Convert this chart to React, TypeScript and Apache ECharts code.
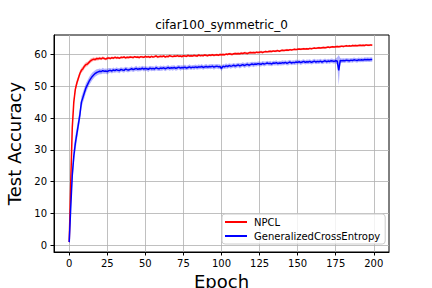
import React, { useEffect, useRef } from "react";
import * as echarts from "echarts";

const epochTicks = [0, 25, 50, 75, 100, 125, 150, 175, 200];
const accTicks = [0, 10, 20, 30, 40, 50, 60];

const npclMean = [
  1.0, 20, 37, 45, 49, 51, 52.5, 54, 55, 55.5,
  56.3, 56.8, 57.0, 57.5, 58.0, 58.3, 58.5, 58.4, 58.7, 58.6,
  58.8, 58.6, 58.9, 58.7, 58.5, 58.8, 58.9, 58.7, 59.0, 58.8,
  59.1, 58.9, 59.0, 58.8, 59.1, 59.0, 59.2, 58.9, 59.1, 59.0,
  59.2, 59.1, 59.0, 59.3, 59.1, 59.2, 59.0, 59.3, 59.2, 59.1,
  59.4, 59.2, 59.3, 59.1, 59.4, 59.2, 59.3, 59.5, 59.2, 59.3,
  59.4, 59.3, 59.5, 59.2, 59.4, 59.3, 59.6, 59.4, 59.3, 59.5,
  59.4, 59.6, 59.4, 59.5, 59.3, 59.6, 59.5, 59.4, 59.7, 59.5,
  59.6, 59.5, 59.7, 59.6, 59.5, 59.8, 59.6, 59.7, 59.6, 59.8,
  59.7, 59.6, 59.8, 59.7, 59.9, 59.7, 59.8, 59.9, 59.7, 60.0,
  59.9, 60.0, 59.9, 60.1, 60.0, 60.2, 60.1, 60.0, 60.2, 60.3,
  60.2, 60.3, 60.2, 60.4, 60.3, 60.5, 60.4, 60.3, 60.5, 60.6,
  60.5, 60.6, 60.5, 60.7, 60.6, 60.7, 60.8, 60.6, 60.8, 60.9,
  60.8, 60.9, 61.0, 60.9, 61.1, 61.0, 61.1, 61.2, 61.0, 61.2,
  61.3, 61.2, 61.3, 61.4, 61.3, 61.5, 61.4, 61.5, 61.6, 61.5,
  61.6, 61.7, 61.6, 61.7, 61.8, 61.7, 61.8, 61.7, 61.9, 61.8,
  61.9, 62.0, 61.9, 62.0, 62.1, 62.0, 62.1, 62.2, 62.1, 62.2,
  62.3, 62.2, 62.3, 62.4, 62.3, 62.4, 62.5, 62.4, 62.5, 62.6,
  62.5, 62.6, 62.7, 62.6, 62.7, 62.6, 62.8, 62.7, 62.8, 62.7,
  62.8, 62.9, 62.8, 62.9, 62.8, 63.0, 62.9, 62.9, 63.0, 62.9,
];

const npclStd = [
  0.2, 1.5, 1.5, 1.2, 1.0, 1.0, 0.9, 0.9, 0.8, 0.8,
  0.8, 0.7, 0.7, 0.6, 0.7, 0.6, 0.6, 0.5, 0.6, 0.5,
  0.5, 0.4, 0.5, 0.4, 0.4, 0.5, 0.4, 0.3, 0.4, 0.4,
  0.3, 0.4, 0.4, 0.3, 0.4, 0.3, 0.4, 0.4, 0.3, 0.4,
  0.4, 0.3, 0.4, 0.3, 0.3, 0.4, 0.4, 0.3, 0.4, 0.3,
  0.4, 0.3, 0.4, 0.4, 0.3, 0.3, 0.4, 0.3, 0.4, 0.4,
  0.3, 0.4, 0.3, 0.4, 0.3, 0.4, 0.4, 0.3, 0.3, 0.4,
  0.3, 0.4, 0.4, 0.3, 0.4, 0.3, 0.3, 0.4, 0.4, 0.3,
  0.4, 0.3, 0.4, 0.3, 0.4, 0.4, 0.3, 0.3, 0.4, 0.3,
  0.4, 0.3, 0.3, 0.4, 0.3, 0.4, 0.3, 0.4, 0.3, 0.4,
  0.3, 0.4, 0.3, 0.3, 0.4, 0.3, 0.4, 0.4, 0.3, 0.3,
  0.4, 0.3, 0.3, 0.4, 0.3, 0.3, 0.4, 0.3, 0.3, 0.4,
  0.3, 0.3, 0.4, 0.3, 0.3, 0.3, 0.4, 0.3, 0.3, 0.3,
  0.3, 0.4, 0.3, 0.3, 0.3, 0.3, 0.4, 0.3, 0.3, 0.3,
  0.3, 0.3, 0.3, 0.4, 0.3, 0.3, 0.3, 0.3, 0.3, 0.3,
  0.3, 0.3, 0.3, 0.3, 0.3, 0.3, 0.3, 0.3, 0.3, 0.3,
  0.3, 0.3, 0.3, 0.3, 0.3, 0.3, 0.3, 0.3, 0.3, 0.3,
  0.3, 0.3, 0.3, 0.3, 0.3, 0.3, 0.3, 0.3, 0.3, 0.3,
  0.3, 0.3, 0.3, 0.3, 0.3, 0.3, 0.3, 0.3, 0.3, 0.3,
  0.3, 0.3, 0.3, 0.3, 0.3, 0.3, 0.3, 0.3, 0.3, 0.3,
];

const gceMean = [
  1.0, 12, 22, 28, 32, 35, 38, 41, 45, 46.5,
  48, 49.5, 50.5, 51.5, 52.3, 53.0, 53.5, 54.0, 54.3, 54.5,
  54.7, 54.6, 54.9, 54.7, 54.8, 54.6, 54.9, 55.0, 54.8, 55.1,
  54.9, 55.2, 55.0, 54.9, 55.3, 55.1, 55.0, 55.4, 55.2, 55.1,
  55.3, 55.5, 55.2, 55.4, 55.6, 55.3, 55.5, 55.4, 55.7, 55.4,
  55.6, 55.5, 55.3, 55.7, 55.5, 55.6, 55.4, 55.8, 55.6, 55.5,
  55.7, 55.6, 55.8, 55.5, 55.7, 55.9, 55.6, 55.8, 55.7, 55.9,
  55.6, 55.8, 56.0, 55.7, 55.9, 55.8, 56.0, 55.7, 55.9, 56.1,
  55.8, 56.0, 55.9, 56.1, 55.9, 56.1, 56.0, 56.2, 55.9, 56.1,
  56.2, 56.0, 56.2, 56.1, 56.3, 56.0, 56.2, 56.3, 56.1, 56.2,
  55.6, 56.3, 56.1, 56.4, 56.2, 56.5, 56.3, 56.4, 56.6, 56.3,
  56.5, 56.7, 56.4, 56.6, 56.8, 56.5, 56.7, 56.9, 56.6, 56.8,
  57.0, 56.8, 57.0, 56.9, 57.1, 57.0, 56.9, 57.2, 57.0, 57.1,
  57.3, 57.1, 57.2, 57.0, 57.3, 57.2, 57.4, 57.1, 57.3, 57.2,
  57.4, 57.3, 57.5, 57.2, 57.4, 57.6, 57.3, 57.5, 57.4, 57.6,
  57.5, 57.7, 57.4, 57.6, 57.8, 57.5, 57.7, 57.6, 57.8, 57.5,
  57.7, 57.9, 57.6, 57.8, 57.7, 57.9, 57.6, 57.8, 58.0, 57.7,
  57.9, 57.8, 58.0, 57.9, 57.8, 58.0, 57.9, 55.0, 58.1, 58.0,
  58.1, 58.0, 58.2, 58.1, 58.0, 58.2, 58.1, 58.3, 58.2, 58.1,
  58.3, 58.2, 58.3, 58.2, 58.4, 58.3, 58.4, 58.3, 58.4, 58.4,
];

const gceStd = [
  0.2, 2.0, 2.5, 2.5, 2.5, 2.2, 2.0, 2.0, 1.8, 1.7,
  1.6, 1.5, 1.4, 1.3, 1.3, 1.2, 1.1, 1.0, 1.0, 0.9,
  0.9, 0.8, 0.9, 0.8, 0.8, 0.9, 0.8, 0.7, 0.8, 0.8,
  0.7, 0.8, 0.7, 0.8, 0.7, 0.7, 0.8, 0.7, 0.8, 0.7,
  0.7, 0.8, 0.7, 0.7, 0.8, 0.7, 0.8, 0.7, 0.7, 0.8,
  0.7, 0.7, 0.8, 0.7, 0.8, 0.7, 0.7, 0.8, 0.7, 0.7,
  0.8, 0.7, 0.7, 0.8, 0.7, 0.8, 0.7, 0.7, 0.8, 0.7,
  0.7, 0.8, 0.7, 0.8, 0.7, 0.7, 0.8, 0.7, 0.7, 0.8,
  0.7, 0.7, 0.8, 0.7, 0.7, 0.8, 0.7, 0.8, 0.7, 0.7,
  0.8, 0.7, 0.7, 0.8, 0.7, 0.8, 0.7, 0.7, 0.8, 0.7,
  0.8, 0.7, 0.7, 0.8, 0.7, 0.7, 0.8, 0.7, 0.7, 0.8,
  0.7, 0.7, 0.8, 0.7, 0.7, 0.8, 0.7, 0.7, 0.8, 0.7,
  0.7, 0.8, 0.7, 0.7, 0.7, 0.8, 0.7, 0.7, 0.8, 0.7,
  0.7, 0.7, 0.8, 0.7, 0.7, 0.7, 0.8, 0.7, 0.7, 0.7,
  0.8, 0.7, 0.7, 0.7, 0.8, 0.7, 0.7, 0.7, 0.7, 0.8,
  0.7, 0.7, 0.7, 0.7, 0.7, 0.7, 0.7, 0.7, 0.7, 0.7,
  0.7, 0.7, 0.7, 0.7, 0.7, 0.7, 0.7, 0.7, 0.7, 0.7,
  0.7, 0.7, 0.7, 0.7, 0.7, 0.7, 1.2, 4.8, 0.8, 0.7,
  0.7, 0.7, 0.7, 0.7, 0.7, 0.7, 0.7, 0.7, 0.7, 0.7,
  0.7, 0.7, 0.7, 0.7, 0.7, 0.7, 0.7, 0.7, 0.7, 0.7,
];

const FONT = "DejaVu Sans";

function bandSeries(name: string, mean: number[], std: number[], color: string) {
  const upper = mean.map((m, i) => [i, m + std[i]]);
  const lower = mean.map((m, i) => [i, m - std[i]]);
  return {
    name: name + "_band",
    type: "custom",
    silent: true,
    z: 1,
    data: [[0, mean[0]]],
    renderItem: (_params: any, api: any) => {
      const pts: number[][] = [];
      for (const p of upper) pts.push(api.coord(p));
      for (let i = lower.length - 1; i >= 0; i--) pts.push(api.coord(lower[i]));
      return {
        type: "polygon",
        shape: { points: pts },
        style: { fill: color, stroke: "none" },
      };
    },
  };
}

export default function App() {
  const ref = useRef<HTMLDivElement>(null);
  useEffect(() => {
    if (!ref.current) return;
    const chart = echarts.init(ref.current, undefined, { renderer: "svg" });
    const option = {
      animation: false,
      backgroundColor: "#ffffff",
      title: {
        text: "cifar100_symmetric_0",
        left: 221.5,
        top: 19,
        textAlign: "center",
        padding: 0,
        textStyle: { fontFamily: FONT, fontSize: 12, fontWeight: "normal", color: "#000" },
      },
      legend: {
        data: ["NPCL", "GeneralizedCrossEntropy"],
        orient: "vertical",
        left: 222,
        top: 214,
        padding: [3, 5, 3, 3],
        itemGap: 4,
        itemWidth: 22,
        itemHeight: 2,
        icon: "rect",
        backgroundColor: "rgba(255,255,255,0.8)",
        borderColor: "#cccccc",
        borderWidth: 1,
        borderRadius: 3,
        textStyle: { fontFamily: FONT, fontSize: 10, color: "#000", padding: [0, 0, 0, 2] },
      },
      grid: {
        left: 54,
        right: 43,
        top: 35,
        bottom: 36,
        show: true,
        borderColor: "#000",
        borderWidth: 1,
        containLabel: false,
        outerBoundsMode: "none",
      },
      xAxis: {
        type: "value",
        min: -10,
        max: 210,
        name: "Epoch",
        nameLocation: "middle",
        nameGap: 20,
        nameTextStyle: { fontFamily: FONT, fontSize: 18, color: "#000" },
        axisLine: { show: true, onZero: false, lineStyle: { color: "#000", width: 1 } },
        axisTick: { show: true, inside: false, length: 3.5, customValues: epochTicks, lineStyle: { color: "#000" } },
        axisLabel: { customValues: epochTicks, fontFamily: FONT, fontSize: 10, color: "#000", margin: 6 },
        splitLine: { show: true, lineStyle: { color: "#b0b0b0", width: 0.8 } },
      },
      yAxis: {
        type: "value",
        min: -2.1,
        max: 66.1,
        name: "Test Accuracy",
        nameLocation: "middle",
        nameGap: 26,
        nameRotate: 90,
        nameTextStyle: { fontFamily: FONT, fontSize: 18, color: "#000" },
        axisLine: { show: true, onZero: false, lineStyle: { color: "#000", width: 1 } },
        axisTick: { show: true, inside: false, length: 3.5, customValues: accTicks, lineStyle: { color: "#000" } },
        axisLabel: { customValues: accTicks, fontFamily: FONT, fontSize: 10, color: "#000", margin: 7 },
        splitLine: { show: true, lineStyle: { color: "#b0b0b0", width: 0.8 } },
      },
      series: [
        bandSeries("npcl", npclMean, npclStd, "rgba(255,0,0,0.3)"),
        bandSeries("gce", gceMean, gceStd, "rgba(0,0,255,0.3)"),
        {
          name: "NPCL",
          type: "line",
          data: npclMean.map((v, i) => [i, v]),
          symbol: "none",
          lineStyle: { color: "#ff0000", width: 1.5 },
          itemStyle: { color: "#ff0000" },
          z: 3,
        },
        {
          name: "GeneralizedCrossEntropy",
          type: "line",
          data: gceMean.map((v, i) => [i, v]),
          symbol: "none",
          lineStyle: { color: "#0000ff", width: 1.5 },
          itemStyle: { color: "#0000ff" },
          z: 3,
        },
      ],
    };
    chart.setOption(option as any);
    return () => chart.dispose();
  }, []);
  return (
    <div
      ref={ref}
      style={{ position: "fixed", left: 0, top: 0, width: 432, height: 288, background: "#fff" }}
    />
  );
}
